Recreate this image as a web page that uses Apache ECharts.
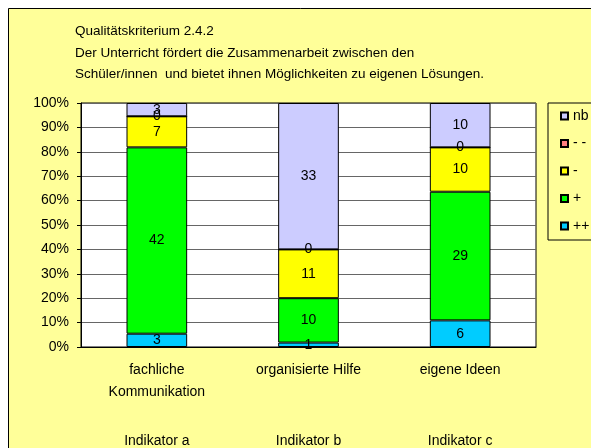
<!DOCTYPE html>
<html style="height: 100%">
<head>
    <meta charset="utf-8">
    <title>Qualitätskriterium 2.4.2</title>
    <script src="https://cdn.jsdelivr.net/npm/echarts@6/dist/echarts.min.js"></script>
</head>
<body style="height: 100%; margin: 0; background: #fff">
    <div id="chart" style="width: 591px; height: 448px"></div>
    <script>
        // Kategorien und Werte (Anzahl Antworten)
        const categories = ['fachliche\nKommunikation', 'organisierte Hilfe', 'eigene Ideen'];
        const indicators = ['Indikator a', 'Indikator b', 'Indikator c'];
        const seriesNames = ['++', '+', '-', '- -', 'nb'];
        const seriesColors = ['#00CCFF', '#00FF00', '#FFFF00', '#FF8080', '#CCCCFF'];
        const valPlusPlus = [3, 1, 6];
        const valPlus = [42, 10, 29];
        const valMinus = [7, 11, 10];
        const valMinusMinus = [0, 0, 0];
        const valNb = [3, 33, 10];
        const yTicks = [0, 10, 20, 30, 40, 50, 60, 70, 80, 90, 100];

        const seriesValues = [valPlusPlus, valPlus, valMinus, valMinusMinus, valNb];
        // Summen je Kategorie -> 100%-Stapel
        const totals = categories.map((c, i) => seriesValues.reduce((s, arr) => s + arr[i], 0));

        const font = 'Liberation Sans, Arial, sans-serif';

        const option = {
            animation: false,
            textStyle: { fontFamily: font },
            graphic: {
                elements: [{
                    type: 'rect',
                    z: -10,
                    shape: { x: 8.5, y: 8.5, width: 620, height: 480 },
                    style: { fill: '#FFFF99', stroke: '#000', lineWidth: 1 }
                }]
            },
            title: {
                text: 'Qualitätskriterium 2.4.2\nDer Unterricht fördert die Zusammenarbeit zwischen den\nSchüler/innen  und bietet ihnen Möglichkeiten zu eigenen Lösungen.',
                left: 70,
                top: 16,
                textStyle: {
                    fontFamily: font,
                    fontSize: 13.5,
                    fontWeight: 'normal',
                    color: '#000',
                    lineHeight: 21.5
                }
            },
            legend: {
                orient: 'vertical',
                left: 548,
                top: 103,
                padding: [6, 40, 7, 12],
                itemGap: 13.5,
                itemWidth: 7,
                itemHeight: 7,
                icon: 'rect',
                borderColor: '#000',
                borderWidth: 1,
                data: seriesNames.slice().reverse(),
                textStyle: { fontFamily: font, fontSize: 14, color: '#000' }
            },
            grid: {
                left: 81,
                right: 55,
                top: 103,
                bottom: 101,
                show: true,
                backgroundColor: '#fff',
                borderColor: '#000',
                borderWidth: 1
            },
            xAxis: [{
                type: 'category',
                data: categories,
                axisLine: { lineStyle: { color: '#000' } },
                axisTick: { length: 5, lineStyle: { color: '#000' } },
                axisLabel: {
                    margin: 12,
                    fontSize: 14,
                    lineHeight: 22,
                    color: '#000',
                    fontFamily: font
                }
            }, {
                type: 'category',
                position: 'bottom',
                offset: 75,
                data: indicators,
                axisLine: { show: false },
                axisTick: { show: false },
                axisLabel: {
                    margin: 12,
                    fontSize: 14,
                    color: '#000',
                    fontFamily: font
                }
            }],
            yAxis: {
                type: 'value',
                min: yTicks[0],
                max: yTicks[yTicks.length - 1],
                interval: yTicks[1] - yTicks[0],
                axisLine: { show: true, lineStyle: { color: '#000' } },
                axisTick: { show: true, length: 4, lineStyle: { color: '#000' } },
                splitLine: { lineStyle: { color: '#666', width: 1 } },
                axisLabel: {
                    formatter: '{value}%',
                    margin: 12,
                    fontSize: 14,
                    color: '#000',
                    fontFamily: font
                }
            },
            series: seriesNames.map((name, s) => ({
                name: name,
                type: 'bar',
                stack: 'total',
                barWidth: '40%',
                itemStyle: { color: seriesColors[s], borderColor: '#000', borderWidth: 1 },
                label: {
                    show: true,
                    position: 'inside',
                    fontSize: 14,
                    color: '#000',
                    fontFamily: font,
                    formatter: p => seriesValues[p.seriesIndex][p.dataIndex]
                },
                data: seriesValues[s].map((v, i) => v / totals[i] * 100)
            }))
        };

        const chart = echarts.init(document.getElementById('chart'), null, { renderer: 'canvas' });
        chart.setOption(option);
    </script>
</body>
</html>
